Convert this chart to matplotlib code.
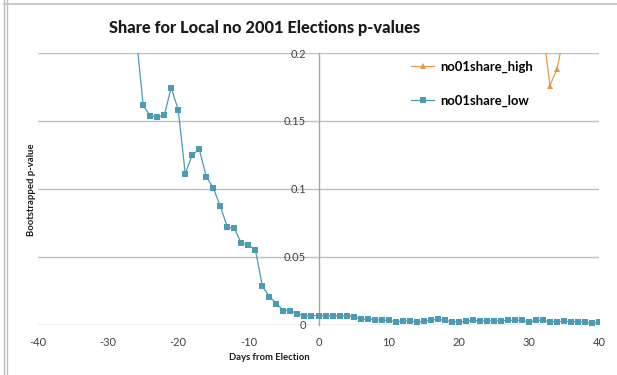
import matplotlib
matplotlib.use("Agg")
import matplotlib.pyplot as plt
from matplotlib.lines import Line2D

# ---- data ----
low_x = list(range(-26, 41))
low_y = [0.213, 0.1615, 0.1537, 0.153, 0.154, 0.1745, 0.158, 0.111, 0.125, 0.129,
         0.109, 0.1005, 0.087, 0.0718, 0.0708, 0.0598, 0.0586, 0.0549, 0.0282, 0.0206,
         0.0154, 0.0103, 0.0103, 0.0076, 0.0066, 0.0066, 0.0066,
         0.0065, 0.0065, 0.0065, 0.0065, 0.0058, 0.0040, 0.0040, 0.0036, 0.0031, 0.0031,
         0.0021, 0.0023, 0.0028, 0.0018, 0.0023, 0.0031, 0.0038, 0.0031, 0.0021, 0.0021,
         0.0023, 0.0031, 0.0026, 0.0026, 0.0026, 0.0026, 0.0031, 0.0031, 0.0031, 0.0018,
         0.0031, 0.0031, 0.0021, 0.0021, 0.0023, 0.0021, 0.0021, 0.0016, 0.0011, 0.0016]
high_x = [32, 33, 34, 35]
high_y = [0.218, 0.176, 0.188, 0.213]
x_ticks = [-40, -30, -20, -10, 0, 10, 20, 30, 40]
y_ticks = [0, 0.05, 0.1, 0.15, 0.2]
y_tick_labels = ["0", "0.05", "0.1", "0.15", "0.2"]

title = "Share for Local no 2001 Elections p-values"
xlabel = "Days from Election"
ylabel = "Bootstrapped p-value"
name_high = "no01share_high"
name_low = "no01share_low"

teal = "#4A9BB3"
orange = "#E39A48"
grid_c = "#BFBFBF"
axis_c = "#A6A6A6"
txt_c = "#404040"
FONT = ["Lato", "DejaVu Sans"]

W, H = 617, 375
fig = plt.figure(figsize=(W / 100, H / 100), dpi=100)
fig.patch.set_facecolor("white")

def px(x, y):
    return x / W, 1 - y / H

left, right = 38, 599
top, bottom = 53, 324.5
ax = fig.add_axes([left / W, 1 - bottom / H, (right - left) / W, (bottom - top) / H])
ax.set_xlim(-40, 40)
ax.set_ylim(0, 0.2)
ax.patch.set_alpha(0)

for s in ["top", "right", "bottom"]:
    ax.spines[s].set_visible(False)
ax.spines["left"].set_position(("data", 0))
ax.spines["left"].set_color(axis_c)
ax.spines["left"].set_linewidth(1.0)

for yv in y_ticks:
    ax.axhline(yv, color=grid_c if yv != 0 else axis_c, lw=1.0, zorder=1)

ax.set_xticks(x_ticks)
ax.set_xticklabels([str(v) for v in x_ticks])
ax.set_yticks(y_ticks)
ax.set_yticklabels(y_tick_labels)
ax.tick_params(axis="both", length=0, labelsize=8, labelcolor=txt_c)
ax.tick_params(axis="x", pad=9)
ax.tick_params(axis="y", pad=9)
for lab in ax.get_xticklabels() + ax.get_yticklabels():
    lab.set_family(FONT)

ax.plot(low_x, low_y, color=teal, lw=0.9, marker="s", markersize=4.2,
        markeredgewidth=0, clip_on=True, zorder=3)
ax.plot(high_x, high_y, color=orange, lw=0.9, marker="^", markersize=5,
        markeredgewidth=0, clip_on=True, zorder=3)

# title and labels
fig.text(*px(265, 28), title, ha="center", va="center", fontsize=11.8,
         fontweight="black", family=FONT, color="#1a1a1a")
fig.text(*px(269, 357), xlabel, ha="center", va="center", fontsize=6.8,
         fontweight="bold", family=FONT, color="#1a1a1a")
fig.text(*px(32, 190), ylabel, ha="center", va="center", rotation=90,
         fontsize=6.8, fontweight="bold", family=FONT, color="#1a1a1a")

# legend
handles = [Line2D([], [], color=orange, lw=0.9, marker="^", markersize=5, markeredgewidth=0),
           Line2D([], [], color=teal, lw=0.9, marker="s", markersize=4.2, markeredgewidth=0)]
leg = fig.legend(handles, [name_high, name_low], loc="upper left",
                 bbox_to_anchor=px(399, 49), frameon=False, handlelength=1.8,
                 handletextpad=0.45, labelspacing=1.65,
                 prop={"family": FONT, "weight": "bold", "size": 9.4})

# chart border fragments (Excel frame)
fig.add_artist(Line2D([4 / W, 1], [1 - 4 / H, 1 - 4 / H], color="#C0C0C0", lw=1.2))
fig.add_artist(Line2D([4.3 / W, 4.3 / W], [0, 1], color="#C0C0C0", lw=1.0))
fig.add_artist(Line2D([6.8 / W, 6.8 / W], [0, 1], color="#C0C0C0", lw=1.0))

fig.savefig("out.png", dpi=100, facecolor="white")
